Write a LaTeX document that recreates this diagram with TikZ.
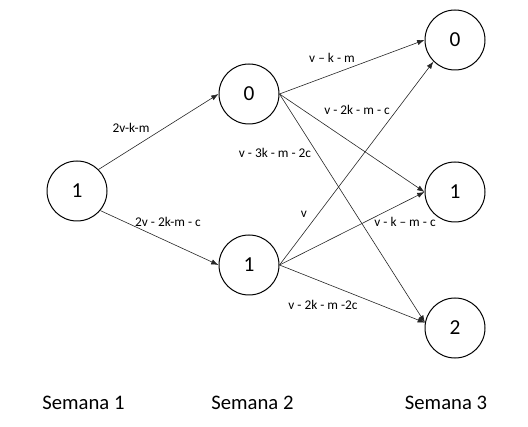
\documentclass[tikz,border=0pt]{standalone}
\usepackage{fontspec}
\setmainfont{Carlito}
\usetikzlibrary{arrows.meta}

\begin{document}
\begin{tikzpicture}[x=0.75pt, y=-0.75pt,
  estado/.style={draw, circle, line width=0.75pt, minimum size=45pt, inner sep=0pt, font=\fontsize{16}{18}\selectfont},
  arco/.style={draw=black!85, line width=0.45pt, -{Latex[length=5.5pt,width=4pt]}},
  valor/.style={font=\fontsize{10}{12}\selectfont, inner sep=1pt},
  semana/.style={font=\fontsize{15.5}{18}\selectfont}]
\useasboundingbox (0,0) rectangle (528,427);
% estados por semana
\node[estado] (a)  at (77,191)  {1};
\node[estado] (b0) at (249,94)  {0};
\node[estado] (b1) at (249,265) {1};
\node[estado] (c0) at (455,40)  {0};
\node[estado] (c1) at (455,192) {1};
\node[estado] (c2) at (455,328) {2};
% arcos
\draw[arco] (a.45) -- (b0.west);
\draw[arco] (a.-40) -- (b1.west);
\draw[arco] (b0.east) -- (c0.west);
\draw[arco] (b0.east) -- (c1.west);
\draw[arco] (b0.east) -- (c2.170);
\draw[arco] (b1.east) -- (c0.225);
\draw[arco] (b1.east) -- (c1.west);
\draw[arco] (b1.east) -- (c2.170);
% valores
\path (131,128) node[valor] (l1) {2v-k-m};
\path (168,222) node[valor] (l2) {2v - 2k-m - c};
\path (332,58)  node[valor] (l3) {v – k - m};
\path (357,110) node[valor] (l4) {v - 2k - m - c};
\path (275,153) node[valor] (l5) {v - 3k - m - 2c};
\path (304,214) node[valor] (l6) {v};
\path (405,222) node[valor] (l7) {v - k – m - c};
\path (323,305) node[valor] (l8) {v - 2k - m -2c};
% semanas
\path (83.5,403) node[semana] (s1) {Semana 1};
\path (252.5,403) node[semana] (s2) {Semana 2};
\path (446,403) node[semana] (s3) {Semana 3};
\end{tikzpicture}
\end{document}
